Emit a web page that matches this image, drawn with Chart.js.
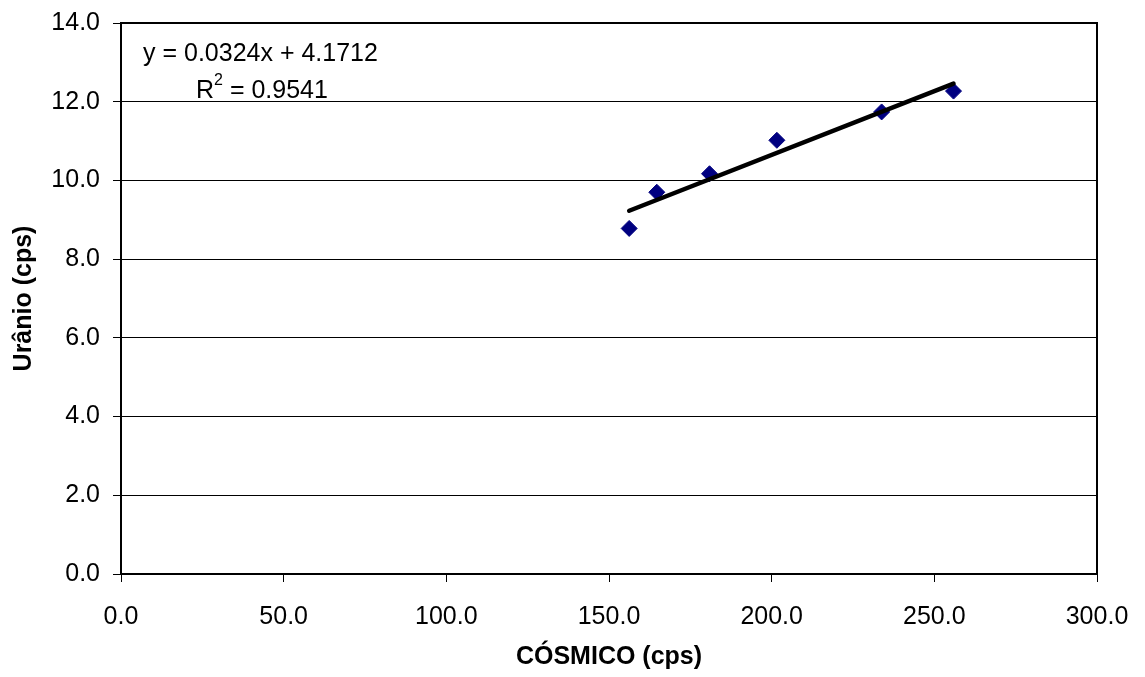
<!DOCTYPE html>
<html>
<head>
<meta charset="utf-8">
<script src="https://cdn.jsdelivr.net/npm/chart.js@4/dist/chart.umd.min.js"></script>
<style>
  html, body { margin: 0; padding: 0; background: #fff; }
  #wrap { width: 1145px; height: 677px; }
</style>
</head>
<body>
<div id="wrap"><canvas id="myChart"></canvas></div>
<script>
// measured points (cósmico vs urânio)
const cosmico = [156.2, 164.7, 180.9, 201.6, 233.8, 255.9];
const uranio = [8.78, 9.70, 10.17, 11.02, 11.74, 12.27];

// trend line ends
const trendX = [156.2, 255.9];
const trendY = [9.23, 12.46];

const xTicks = [0, 50, 100, 150, 200, 250, 300];
const yTicks = [0, 2, 4, 6, 8, 10, 12, 14];

const eqText = 'y = 0.0324x + 4.1712';
const r2Value = ' = 0.9541';

const FONT = "'Liberation Sans', Arial, sans-serif";

// frame round the plot area + regression label
const framePlugin = {
  id: 'frame',
  afterDraw(chart) {
    const { ctx, chartArea: a } = chart;
    ctx.save();
    ctx.strokeStyle = '#000';
    ctx.lineWidth = 2;
    ctx.strokeRect(a.left, a.top, a.right - a.left, a.bottom - a.top);

    ctx.fillStyle = '#000';
    ctx.textBaseline = 'middle';
    ctx.textAlign = 'left';
    ctx.font = '25px ' + FONT;
    ctx.fillText(eqText, a.left + 22, a.top + 31);
    const rx = a.left + 75, ry = a.top + 68;
    ctx.fillText('R', rx, ry);
    const rw = ctx.measureText('R').width;
    ctx.font = '16px ' + FONT;
    ctx.fillText('2', rx + rw, ry - 10);
    const sw = ctx.measureText('2').width;
    ctx.font = '25px ' + FONT;
    ctx.fillText(r2Value, rx + rw + sw, ry);
    ctx.restore();
  }
};

const chart = new Chart(document.getElementById('myChart'), {
  type: 'scatter',
  data: {
    datasets: [
      {
        label: 'Urânio',
        data: cosmico.map((x, i) => ({ x, y: uranio[i] })),
        pointStyle: 'rectRot',
        pointRadius: 8,
        pointHoverRadius: 8,
        backgroundColor: '#000080',
        borderColor: '#000080',
        borderWidth: 1,
        order: 1
      },
      {
        label: 'Linear',
        type: 'line',
        data: trendX.map((x, i) => ({ x, y: trendY[i] })),
        borderColor: '#000',
        borderWidth: 4.5,
        borderCapStyle: 'round',
        pointRadius: 0,
        fill: false,
        order: 0
      }
    ]
  },
  options: {
    responsive: true,
    maintainAspectRatio: false,
    animation: false,
    layout: { padding: { left: 0, top: 23, right: 48, bottom: 0 } },
    plugins: {
      legend: { display: false },
      tooltip: { enabled: false }
    },
    scales: {
      x: {
        type: 'linear',
        min: 0,
        max: 300,
        afterBuildTicks: s => { s.ticks = xTicks.map(v => ({ value: v })); },
        afterFit: s => { s.height = 103; },
        border: { display: false },
        grid: { drawOnChartArea: false, drawTicks: true, tickLength: 8, color: '#000', lineWidth: 1 },
        ticks: {
          padding: 16,
          color: '#000',
          font: { family: FONT, size: 25, lineHeight: 1.5 },
          callback: v => Number(v).toFixed(1)
        },
        title: {
          display: true,
          text: 'CÓSMICO (cps)',
          color: '#000',
          font: { family: FONT, size: 25, weight: 'bold' },
          padding: { top: 5, bottom: 5 }
        }
      },
      y: {
        type: 'linear',
        min: 0,
        max: 14,
        afterBuildTicks: s => { s.ticks = yTicks.map(v => ({ value: v })); },
        afterFit: s => { s.width = 121; },
        border: { display: false },
        grid: { drawOnChartArea: true, drawTicks: true, tickLength: 8, color: '#000', lineWidth: 1 },
        ticks: {
          padding: 13,
          color: '#000',
          font: { family: FONT, size: 25, lineHeight: 0.4 },
          callback: v => Number(v).toFixed(1)
        },
        title: {
          display: true,
          text: 'Urânio (cps)',
          color: '#000',
          font: { family: FONT, size: 25, weight: 'bold' },
          padding: { top: 9, bottom: 9 }
        }
      }
    }
  },
  plugins: [framePlugin]
});
</script>
</body>
</html>
